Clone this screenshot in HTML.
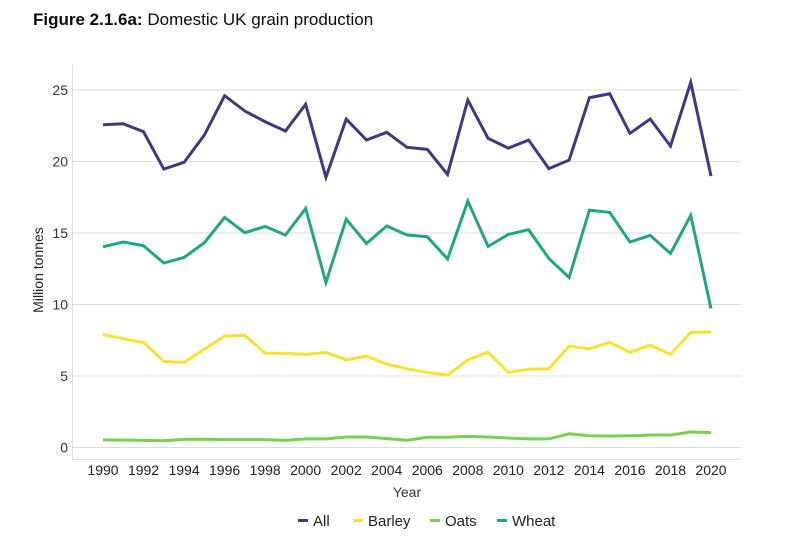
<!DOCTYPE html>
<html><head><meta charset="utf-8"><style>
body{margin:0;background:#fff;width:790px;height:541px;overflow:hidden;font-family:"Liberation Sans",sans-serif}
</style></head><body>
<svg width="790" height="541" xmlns="http://www.w3.org/2000/svg">
<text x="33" y="25" font-size="17" fill="#0b0c0c"><tspan font-weight="bold">Figure 2.1.6a:</tspan> Domestic UK grain production</text>
<g id="grid"></g><g id="lines"></g><g id="xt"></g>
<text x="43" y="270" font-size="14" fill="#222" text-anchor="middle" transform="rotate(-90 43 270)">Million tonnes</text>
<text x="407" y="497" font-size="14" fill="#333" text-anchor="middle">Year</text>
<g id="legend"></g>
</svg>
<script>
const years=[];for(let y=1990;y<=2020;y++)years.push(y);
const allVals=[22.57,22.64,22.08,19.47,19.94,21.85,24.6,23.53,22.78,22.13,24.0,18.89,22.97,21.5,22.04,20.99,20.85,19.1,24.3,21.62,20.94,21.5,19.5,20.1,24.46,24.74,21.97,22.97,21.08,25.54,18.98];
const wheatVals=[14.04,14.37,14.11,12.9,13.29,14.32,16.09,15.02,15.46,14.86,16.72,11.54,15.97,14.27,15.49,14.86,14.74,13.18,17.23,14.06,14.9,15.23,13.22,11.89,16.6,16.44,14.37,14.83,13.57,16.23,9.72];
const barleyVals=[7.9,7.6,7.35,6.02,5.95,6.88,7.79,7.84,6.6,6.58,6.51,6.65,6.13,6.39,5.83,5.5,5.25,5.06,6.13,6.65,5.25,5.48,5.5,7.09,6.9,7.35,6.65,7.16,6.51,8.05,8.09];
const oatsVals=[0.53,0.52,0.5,0.47,0.57,0.58,0.55,0.55,0.55,0.5,0.6,0.6,0.73,0.73,0.62,0.51,0.72,0.72,0.78,0.73,0.66,0.6,0.6,0.96,0.82,0.8,0.82,0.87,0.87,1.09,1.04];
const yTicks=[0,5,10,15,20,25];
const seriesNames=["All","Barley","Oats","Wheat"];
const NS="http://www.w3.org/2000/svg";
const colors={All:"#3b3b82",Barley:"#f7e233",Oats:"#79cf52",Wheat:"#21a685"};
const xS=v=>103+(v-1990)*(711-103)/30;
const yS=v=>447.5-v*(447.5-90)/25;
function mk(t,a,p){const e=document.createElementNS(NS,t);for(const k in a)e.setAttribute(k,a[k]);p.appendChild(e);return e;}
const grid=document.getElementById('grid');
const ax=mk('line',{x1:72.5,x2:72.5,y1:65,y2:459,stroke:'#ddd'},grid);


const bx=mk('line',{x1:72,x2:741,y1:459.5,y2:459.5,stroke:'#ddd'},grid);


yTicks.forEach(t=>{
 const l=mk('line',{x1:72,x2:741,y1:yS(t),y2:yS(t),stroke:'#dcdcdc'},grid);
 
 
 const tx=mk('text',{x:68,y:yS(t)+5,'font-size':14,fill:'#333','text-anchor':'end'},grid);
 tx.textContent=t;
 
 
});
const xt=document.getElementById('xt');
years.filter(y=>y%2==0).forEach(y=>{
 const tx=mk('text',{x:xS(y),y:475,'font-size':14,fill:'#222','text-anchor':'middle'},xt);
 tx.textContent=y;
 
 
});
const lines=document.getElementById('lines');
[["Oats",oatsVals],["Barley",barleyVals],["Wheat",wheatVals],["All",allVals]].forEach(([n,vals])=>{
 const p=mk('polyline',{points:vals.map((v,i)=>xS(years[i])+','+yS(v)).join(' '),fill:'none',stroke:colors[n],'stroke-width':3,'stroke-linejoin':'miter'},lines);
 
 
});
const lg=document.getElementById('legend');
let lx=298;
const widths={All:30,Barley:52,Oats:42,Wheat:50};
seriesNames.forEach(n=>{
 const g=mk('g',{},lg);
 
 
 mk('line',{x1:lx,x2:lx+10,y1:520.5,y2:520.5,stroke:colors[n],'stroke-width':3},g);
 const t=mk('text',{x:lx+15,y:526,'font-size':15,fill:'#222'},g);
 t.textContent=n;
 lx+=15+widths[n]+10;
});
</script>
</body></html>
